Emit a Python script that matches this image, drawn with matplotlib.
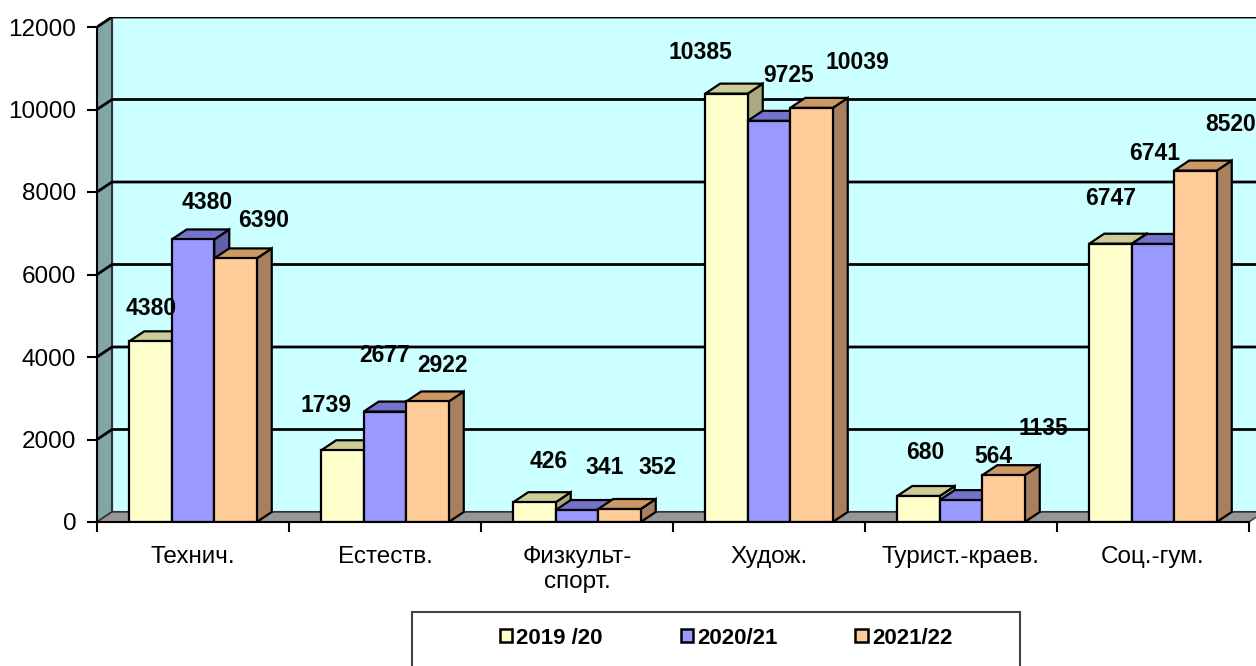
import matplotlib
matplotlib.use("Agg")
import matplotlib.pyplot as plt
from matplotlib.patches import Polygon, Rectangle, Patch

plt.rcParams['font.family'] = ['Liberation Sans', 'DejaVu Sans']

# данные
categories = ['Технич.', 'Естеств.', 'Физкульт-\nспорт.', 'Худож.', 'Турист.-краев.', 'Соц.-гум.']
years = ['2019 /20', '2020/21', '2021/22']
v2019 = [4380, 1739, 480, 10385, 630, 6747]
v2020 = [6850, 2677, 290, 9725, 530, 6741]
v2021 = [6390, 2922, 315, 10039, 1135, 8520]
labels2019 = ['4380', '1739', '426', '10385', '680', '6747']
labels2020 = ['4380', '2677', '341', '9725', '564', '6741']
labels2021 = ['6390', '2922', '352', '10039', '1135', '8520']

# смещения подписей (в пикселях от верха столбца)
offs2019 = [(1, 33), (-17, 45), (14, 41), (-26, 41), (7, 44), (0, 45)]
offs2020 = [(14, 37), (0, 56), (28, 43), (20, 45), (32, 44), (2, 90)]
offs2021 = [(28, 38), (15, 36), (38, 42), (46, 45), (40, 47), (35, 46)]

front = ['#FFFFCC', '#9999FF', '#FFCC99']
top = ['#CCCC99', '#7373CC', '#CC9966']
side = ['#AAAA80', '#6060A8', '#A6805F']

W, H = 1256, 666
fig = plt.figure(figsize=(W / 100, H / 100), dpi=100)

px_cat = 192.0          # пикселей на категорию
px_val = 495.0 / 12000  # пикселей на единицу
DXp, DYp = 15, 10
DX = DXp / px_cat
DY = DYp / px_val
n = len(categories)

ax = fig.add_axes([97 / W, (H - 522) / H, (n * px_cat + DXp) / W, (495 + DYp) / H])
ax.set_xlim(0, n + DX)
ax.set_ylim(0, 12000 + DY)

# стены и пол
ax.add_patch(Polygon([(DX, DY), (n + DX, DY), (n + DX, 12000 + DY), (DX, 12000 + DY)],
                     closed=True, facecolor='#CCFFFF', edgecolor='#333333', lw=1.5, zorder=0))
ax.add_patch(Polygon([(0, 0), (DX, DY), (DX, 12000 + DY), (0, 12000)],
                     closed=True, facecolor='#80A6A6', edgecolor='#333333', lw=1.5, zorder=0))
ax.add_patch(Polygon([(0, 0), (n, 0), (n + DX, DY), (DX, DY)],
                     closed=True, facecolor='#969696', edgecolor='#333333', lw=1.0, zorder=1))

for g in range(2000, 12001, 2000):
    ax.plot([0, DX, n + DX], [g, g + DY, g + DY], color='black', lw=2.0, zorder=1)

bw = 42.5 / px_cat
series = [v2019, v2020, v2021]
labs = [labels2019, labels2020, labels2021]
offs = [offs2019, offs2020, offs2021]

for i in range(n):
    for s in range(3):
        x0 = i + 0.5 - 1.5 * bw + s * bw
        x1 = x0 + bw
        h = series[s][i]
        ax.add_patch(Polygon([(x1, 0), (x1 + DX, DY), (x1 + DX, h + DY), (x1, h)],
                             closed=True, facecolor=side[s], edgecolor='black', lw=1.6, zorder=3))
        ax.add_patch(Polygon([(x0, h), (x1, h), (x1 + DX, h + DY), (x0 + DX, h + DY)],
                             closed=True, facecolor=top[s], edgecolor='black', lw=1.6, zorder=3))
        ax.add_patch(Rectangle((x0, 0), bw, h, facecolor=front[s], edgecolor='black', lw=1.6, zorder=3))
        ax.annotate(labs[s][i], xy=(x0 + bw / 2, h), xytext=offs[s][i], textcoords='offset pixels',
                    ha='center', va='center', fontsize=16.5, fontweight='bold', zorder=5)

for sp in ['top', 'right']:
    ax.spines[sp].set_visible(False)
ax.spines['left'].set_bounds(0, 12000)
ax.spines['bottom'].set_bounds(0, n)
ax.spines['left'].set_linewidth(1.5)
ax.spines['bottom'].set_linewidth(1.5)
ax.spines['left'].set_zorder(4)
ax.spines['bottom'].set_zorder(4)

ax.set_yticks(range(0, 12001, 2000))
ax.set_yticklabels([str(t) for t in range(0, 12001, 2000)], fontsize=17.5)
ax.tick_params(axis='y', direction='out', length=7, width=1.5, pad=8)
ax.set_xticks(range(0, n + 1))
ax.set_xticklabels([])
ax.set_xticks([i + 0.5 for i in range(n)], minor=True)
ax.set_xticklabels(categories, minor=True, fontsize=17.5, linespacing=1.2)
ax.tick_params(axis='x', which='major', direction='out', length=7, width=1.5)
ax.tick_params(axis='x', which='minor', length=0, pad=17)

# легенда
fig.patches.append(Rectangle((412 / W, -0.05), (1020 - 412) / W, (666 - 612) / H + 0.05,
                             transform=fig.transFigure, facecolor='white', edgecolor='#444444', lw=1.5))
handles = [Patch(facecolor=front[s], edgecolor='black', lw=1.8) for s in range(3)]
fig.legend(handles, years, loc='center', bbox_to_anchor=(726 / W, (666 - 638) / H), ncol=3,
           frameon=False, prop={'weight': 'bold', 'size': 16}, handlelength=0.55, handleheight=0.55,
           handletextpad=0.2, columnspacing=3.5)

fig.savefig('out.png', dpi=100)
